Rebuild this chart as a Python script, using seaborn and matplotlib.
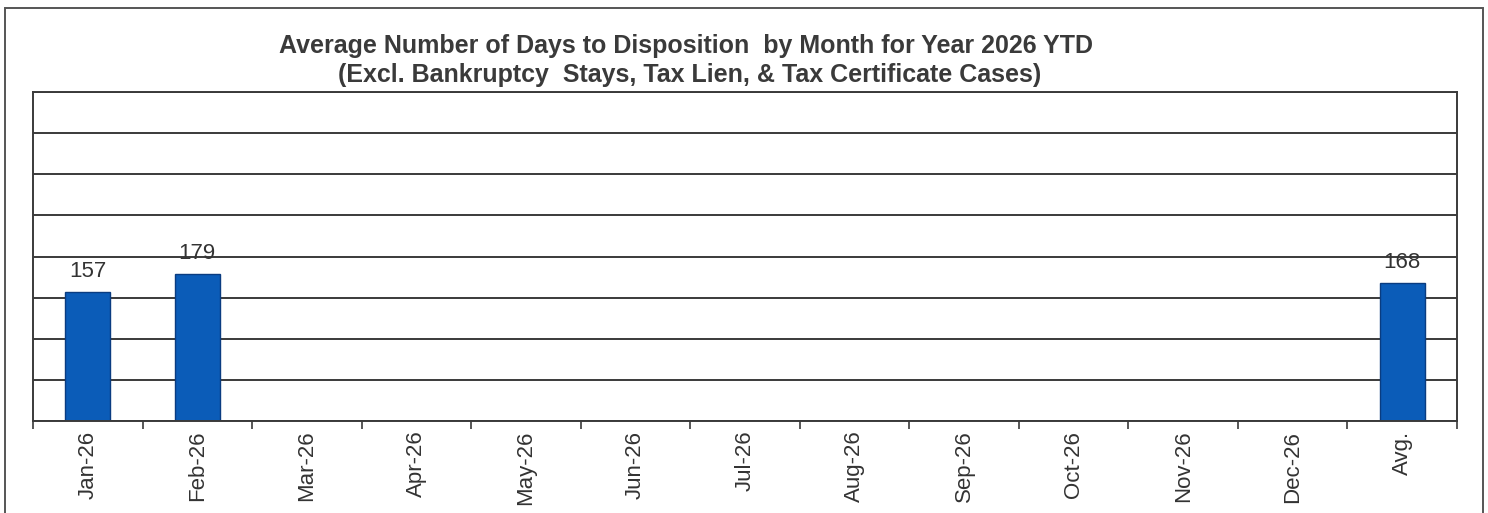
import pandas as pd
import numpy as np
import seaborn as sns
import matplotlib.pyplot as plt
from matplotlib.patches import Rectangle

# chart data
months = ['Jan-26', 'Feb-26', 'Mar-26', 'Apr-26', 'May-26', 'Jun-26', 'Jul-26',
          'Aug-26', 'Sep-26', 'Oct-26', 'Nov-26', 'Dec-26', 'Avg.']
days = [157, 179, None, None, None, None, None, None, None, None, None, None, 168]
title_1 = 'Average Number of Days to Disposition  by Month for Year 2026 YTD'
title_2 = '(Excl. Bankruptcy  Stays, Tax Lien, & Tax Certificate Cases)'

df = pd.DataFrame({'month': months, 'days': [np.nan if d is None else d for d in days]})

sns.set_theme(style='white')
plt.rcParams['font.family'] = ['Liberation Sans', 'DejaVu Sans']

fig = plt.figure(figsize=(14.88, 5.13), dpi=100)
ax = fig.add_axes([33 / 1488, 1 - 421 / 513, (1457 - 33) / 1488, (421 - 92) / 513])

sns.barplot(data=df.dropna(), x='month', y='days', order=months, color='#0b5cb8',
            saturation=1, width=0.41, edgecolor='#0a3c80', linewidth=1, ax=ax)

ax.set_xlim(-0.5, len(months) - 0.5)
ax.set_ylim(0, 400)
ax.set_yticks(np.arange(0, 401, 50))
ax.set_yticklabels([])
ax.tick_params(axis='y', length=0)
ax.yaxis.grid(True, color='#3a3a3a', linewidth=1.4)
ax.set_axisbelow(True)
for s in ax.spines.values():
    s.set_color('#3a3a3a')
    s.set_linewidth(1.4)

ax.set_xticks(range(len(months)))
ax.set_xticklabels(months, rotation=90, fontsize=16, color='#333333')
ax.set_xticks(np.arange(-0.5, len(months), 1), minor=True)
ax.tick_params(axis='x', which='major', length=0, pad=7)
ax.tick_params(axis='x', which='minor', length=6, width=1.2, color='#3a3a3a', bottom=True)
ax.set_xlabel('')
ax.set_ylabel('')

for i, d in enumerate(days):
    if d is not None:
        ax.annotate(str(d), (i, d), xytext=(0, 7), textcoords='offset points',
                    ha='center', va='bottom', fontsize=16, color='#333333')

fig.text(686 / 1488, 1 - 46 / 513, title_1, ha='center', va='center',
         fontsize=18, fontweight='bold', color='#3a3a3a')
fig.text(690 / 1488, 1 - 75 / 513, title_2, ha='center', va='center',
         fontsize=18, fontweight='bold', color='#3a3a3a')

fig.add_artist(Rectangle((5 / 1488, -0.05), (1483 - 5) / 1488, 1.05 - 8 / 513,
                         transform=fig.transFigure, fill=False,
                         edgecolor='#555555', linewidth=1.4))

fig.savefig('out.png', dpi=100)
